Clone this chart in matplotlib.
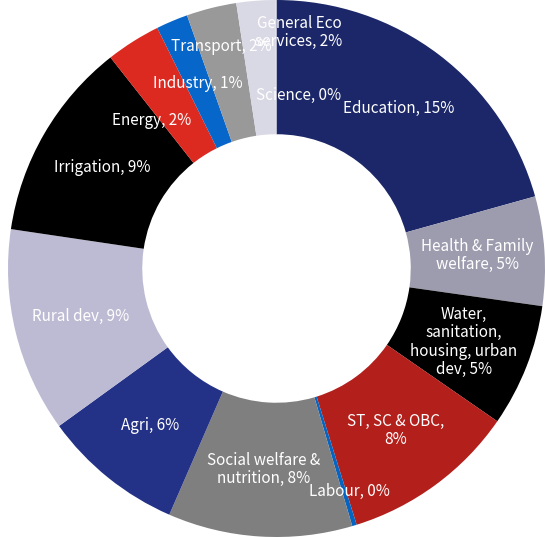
import matplotlib.pyplot as plt
import numpy as np

# Share of spending by sector (%), clockwise from the top
sectors = ["Education", "Health & Family\nwelfare", "Water,\nsanitation,\nhousing, urban\ndev",
           "ST, SC & OBC,\n", "Labour", "Social welfare &\nnutrition", "Agri", "Rural dev",
           "Irrigation", "Energy", "Industry", "Transport", "General Eco\nservices", "Science"]
shares = [15.1, 4.8, 5.4, 7.7, 0.2, 8.1, 6.2, 9.0, 8.8, 2.4, 1.4, 2.2, 1.7, 0.05]

colors = ["#1b2768", "#9d9caf", "#000000", "#b31f1b", "#0563c1", "#7f7f7f", "#233286",
          "#bdbbd3", "#000000", "#dc2a21", "#0766c9", "#999999", "#d9d8e5", "#d9d8e5"]

# a few labels were dragged away from the middle of their slice
nudge = {"Energy": (-17, -22), "Transport": (-6, 27), "General Eco\nservices": (38, 35),
         "Science": (22, -28), "Labour": (14, -30)}

plt.rcParams['font.family'] = ['Noto Sans CJK KR', 'DejaVu Sans']

fig = plt.figure(figsize=(5.45, 5.37), dpi=100)
ax = fig.add_axes([0, 0, 1, 1])
wedges, _ = ax.pie(shares, startangle=90, counterclock=False, colors=colors,
                   wedgeprops=dict(width=0.5, edgecolor='none'))

for w, name, v in zip(wedges, sectors, shares):
    mid = np.deg2rad((w.theta1 + w.theta2) / 2)
    r = 0.75
    xy = (r * np.cos(mid), r * np.sin(mid))
    if name.endswith("\n"):
        txt = name + f"{v:.0f}%"
    else:
        txt = f"{name}, {v:.0f}%"
    ax.annotate(txt, xy=xy, xytext=nudge.get(name, (0, 0)), textcoords='offset pixels',
                ha='center', va='center', color='white', fontsize=11,
                linespacing=1.1, multialignment='center')

ax.set_aspect('auto')
ax.set_xlim(-276.5 / 268.5, (545 - 276.5) / 268.5)
ax.set_ylim(-1.0, 1.0)
ax.axis('off')
fig.savefig("out.png", dpi=100)
